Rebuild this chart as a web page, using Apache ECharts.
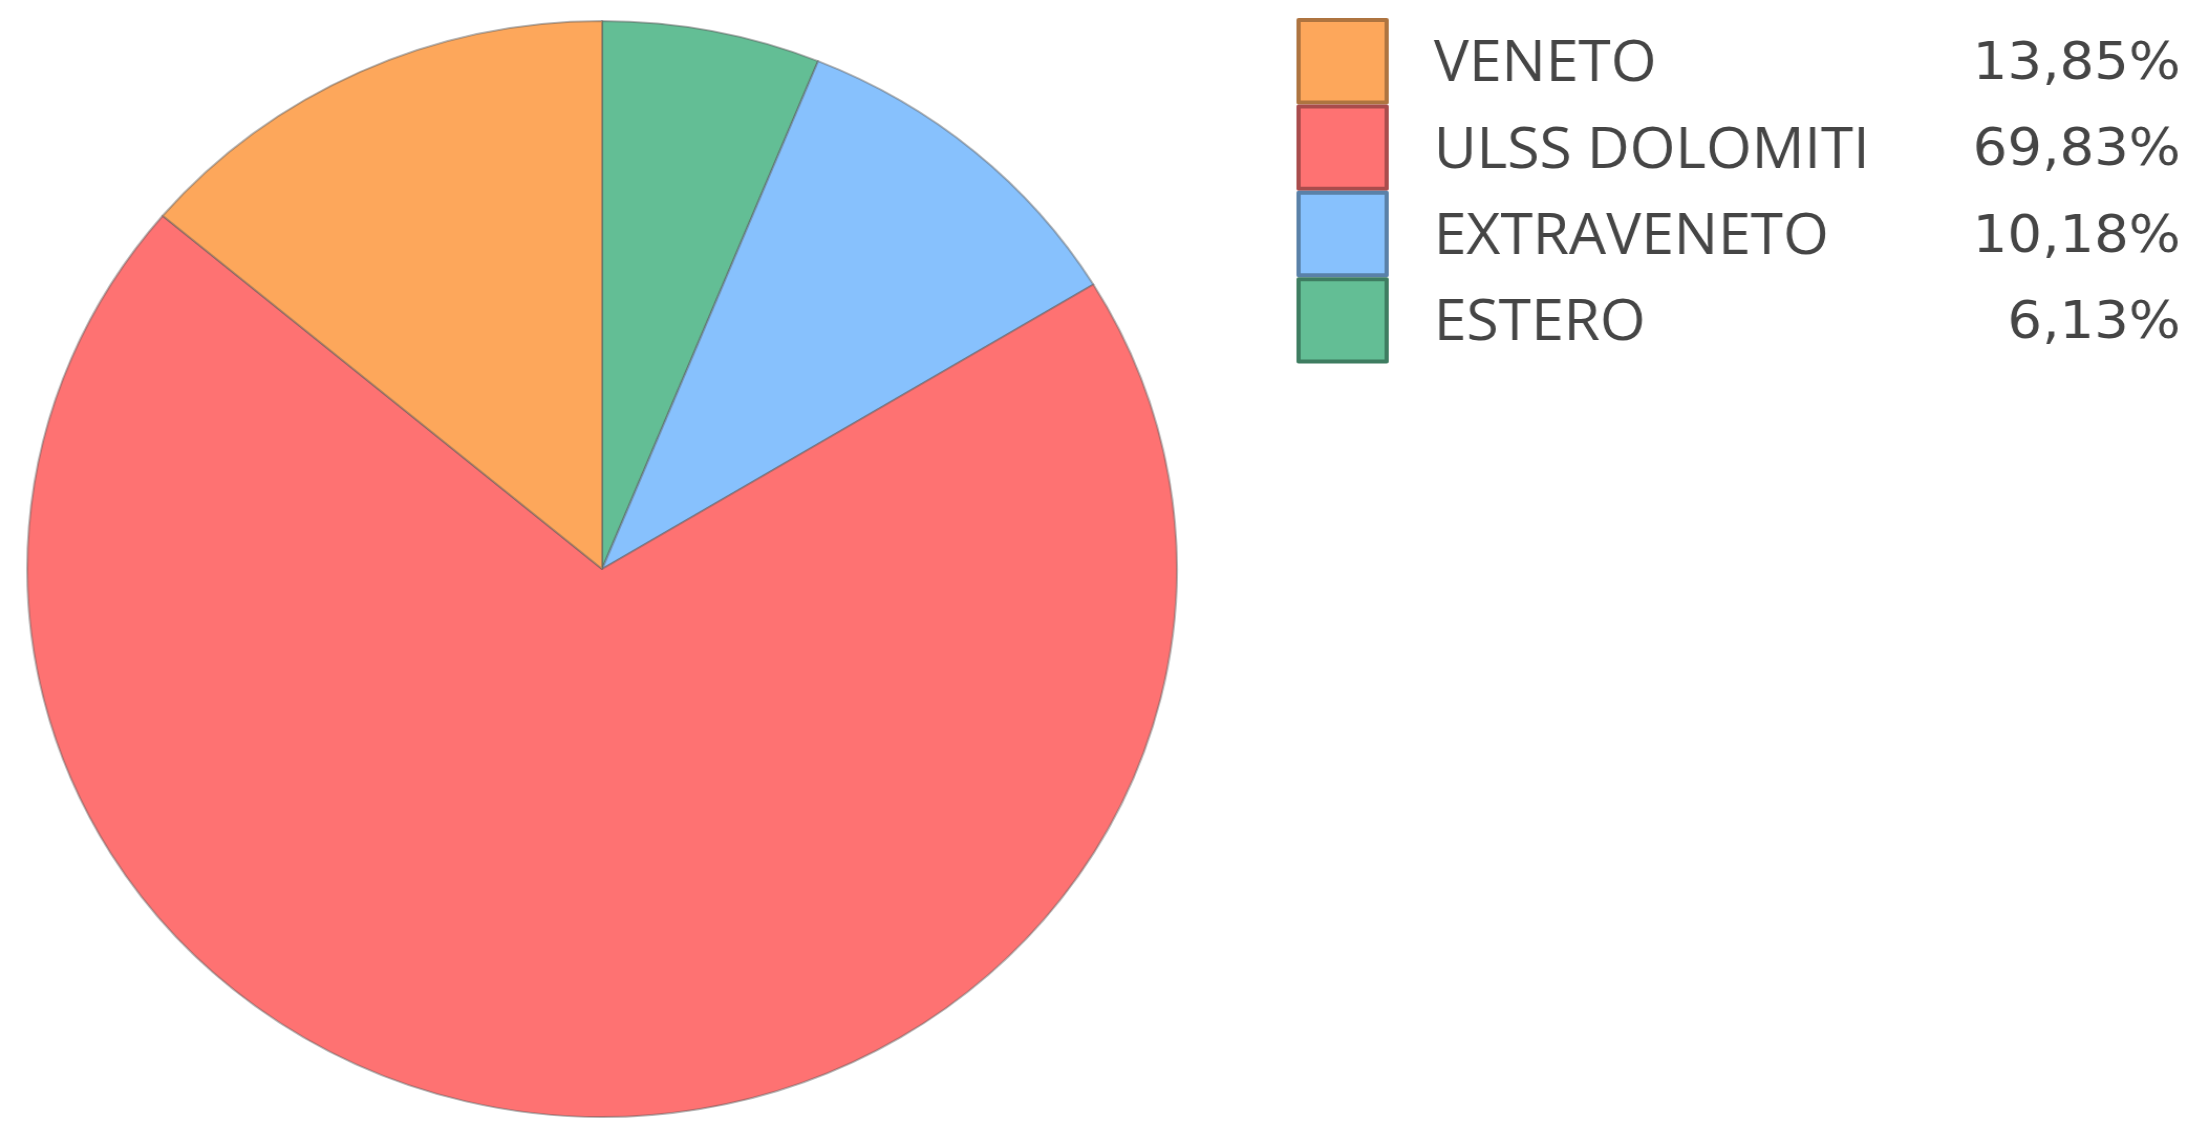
<!DOCTYPE html>
<html>
<head>
<meta charset="utf-8">
<script src="https://cdn.jsdelivr.net/npm/echarts@6/dist/echarts.min.js"></script>
<style>
  html, body { margin: 0; padding: 0; background: #ffffff; overflow: hidden; }
  #wrap { width: 2190px; height: 1122px; overflow: hidden; }
  #chart { width: 2088px; height: 1122px; transform: scaleX(1.0489); transform-origin: 0 0; }
</style>
</head>
<body>
<div id="wrap"><div id="chart"></div></div>
<script>
// Data (clockwise order from 12 o'clock)
const categories = ['ESTERO', 'EXTRAVENETO', 'ULSS DOLOMITI', 'VENETO'];
const values = [6.13, 10.18, 69.83, 13.85];
const colors = ['#63BE95', '#87C1FD', '#FE7272', '#FDA75B'];
const borderColors = ['#3E7D61', '#5A81A8', '#A94C4C', '#AE7440'];
// Legend order as shown
const legendOrder = ['VENETO', 'ULSS DOLOMITI', 'EXTRAVENETO', 'ESTERO'];

const valueByName = {};
categories.forEach((c, i) => { valueByName[c] = values[i]; });
const fmt = v => v.toFixed(2).replace('.', ',') + '%';

const chart = echarts.init(document.getElementById('chart'), null, { renderer: 'canvas' });
chart.setOption({
  animation: false,
  backgroundColor: '#ffffff',
  legend: {
    orient: 'vertical',
    left: 1236,
    top: 18,
    icon: 'rect',
    itemWidth: 84,
    itemHeight: 82.4,
    itemGap: 0,
    padding: 0,
    selectedMode: false,
    data: legendOrder.map(n => {
      const i = categories.indexOf(n);
      return { name: n, itemStyle: { color: colors[i], borderColor: borderColors[i], borderWidth: 4 } };
    }),
    formatter: name => '{n|' + name + '}{v|' + fmt(valueByName[name]) + '}',
    textStyle: {
      fontFamily: '"Open Sans", "Noto Sans", sans-serif',
      fontSize: 56,
      lineHeight: 60,
      color: '#454545',
      rich: {
        n: { fontFamily: '"Open Sans", "Noto Sans", sans-serif', fontSize: 56, lineHeight: 60, color: '#454545', width: 400, padding: [8, 0, 0, 40] },
        v: { fontFamily: '"DejaVu Sans", sans-serif', fontSize: 52, lineHeight: 60, color: '#454545', width: 312, align: 'right', padding: [8, 0, 0, 0] }
      }
    }
  },
  series: [{
    type: 'pie',
    center: [574, 569],
    radius: 548,
    startAngle: 90,
    clockwise: true,
    label: { show: false },
    labelLine: { show: false },
    emphasis: { disabled: true },
    itemStyle: { borderColor: 'rgba(90,90,90,0.45)', borderWidth: 2 },
    data: categories.map((c, i) => ({ name: c, value: values[i], itemStyle: { color: colors[i] } }))
  }]
});
</script>
</body>
</html>
